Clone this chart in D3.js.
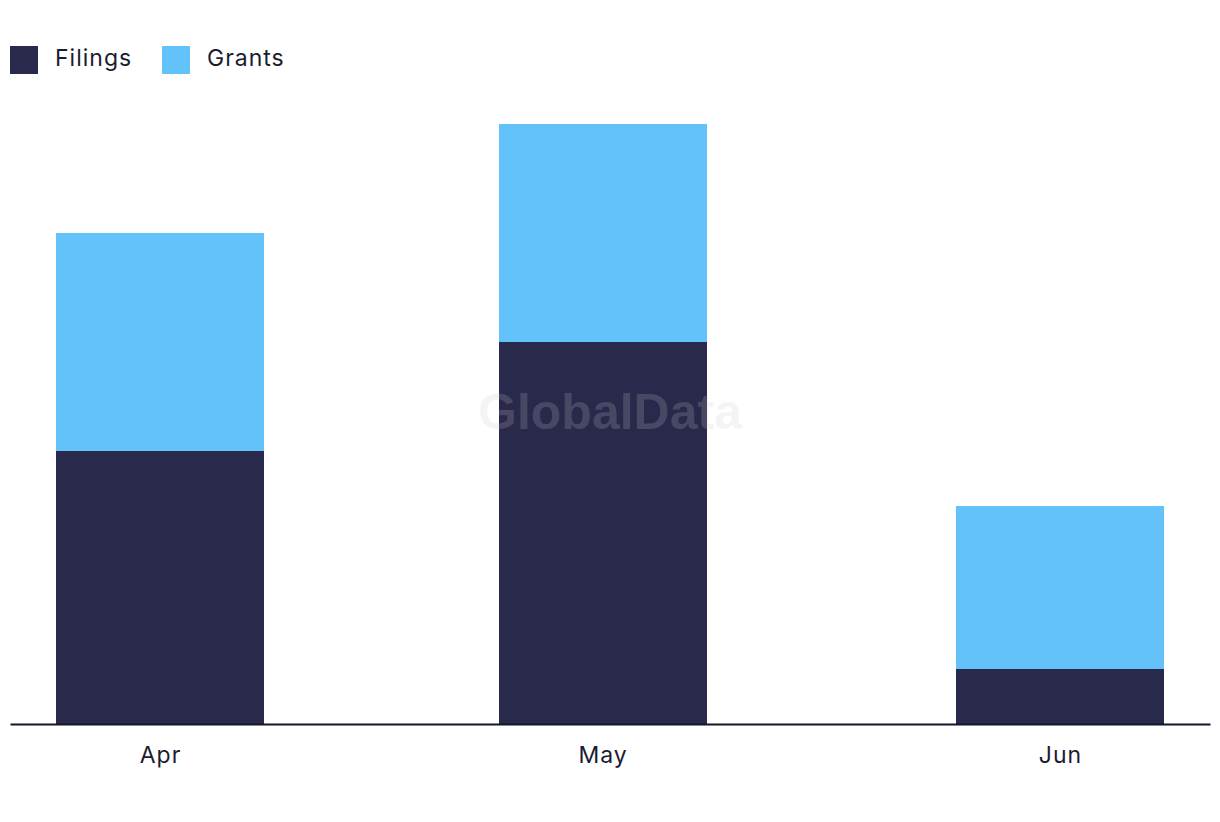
<!DOCTYPE html>
<html>
<head>
<meta charset="utf-8">
<script src="https://cdn.jsdelivr.net/npm/d3@7"></script>
<style>
  html, body { margin: 0; padding: 0; background: #fff; }
  svg { display: block; }
  text { font-family: Inter, "Open Sans", sans-serif; }
</style>
</head>
<body>
<svg id="chart" width="1220" height="822"></svg>
<script>
const months = ["Apr", "May", "Jun"];
const monthDates = ["2023-04-01", "2023-05-01", "2023-06-01"];
const filings = [5, 7, 1];
const grants = [4, 4, 3];
const seriesNames = ["Filings", "Grants"];
const seriesColors = ["#28294B", "#63C2F9"];

const svg = d3.select("#chart");
const axisY = 724;
const dates = monthDates.map(d => new Date(d + "T00:00:00"));
const dayMs = 86400000;
const padDays = 10.17;

const x = d3.scaleTime()
  .domain([new Date(dates[0].getTime() - padDays * dayMs), new Date(dates[2].getTime() + padDays * dayMs)])
  .range([10, 1210]);
const y = d3.scaleLinear()
  .domain([0, d3.max(filings.map((f, i) => f + grants[i]))])
  .range([723.5, 124]);

const barW = 208;
const rows = months.map((m, i) => ({ month: m, date: dates[i], Filings: filings[i], Grants: grants[i] }));
const stack = d3.stack().keys(seriesNames)(rows);

// bars
stack.forEach((layer, li) => {
  svg.append("g").attr("fill", seriesColors[li])
    .selectAll("rect").data(layer).join("rect")
    .attr("x", d => Math.round(x(d.data.date) - barW / 2))
    .attr("width", barW)
    .attr("y", d => Math.round(y(d[1])))
    .attr("height", d => Math.round(y(d[0])) - Math.round(y(d[1])));
});

// watermark
svg.append("text")
  .attr("x", 610).attr("y", 429)
  .attr("text-anchor", "middle")
  .style("font-family", "'Liberation Sans', Arial, sans-serif")
  .style("font-weight", "bold")
  .style("font-size", "50px")
  .attr("fill", "#c8c8cc")
  .attr("fill-opacity", 0.2)
  .text("GlobalData");

// axis
const axis = d3.axisBottom(x)
  .tickValues(dates)
  .tickFormat((d, i) => months[i])
  .tickSize(0)
  .tickSizeOuter(0)
  .tickPadding(23);
const ag = svg.append("g").attr("transform", `translate(0,${axisY})`).call(axis);
ag.select(".domain").attr("stroke", "#14142a").attr("stroke-width", 2);
ag.selectAll("text")
  .style("font-family", "Inter, 'Open Sans', sans-serif")
  .style("font-size", "23px")
  .style("letter-spacing", "1px")
  .attr("fill", "#1c1c30");

// legend
const legendItems = [
  { name: seriesNames[0], color: seriesColors[0], x: 10 },
  { name: seriesNames[1], color: seriesColors[1], x: 162 }
];
const lg = svg.append("g");
legendItems.forEach(it => {
  lg.append("rect").attr("x", it.x).attr("y", 46).attr("width", 28).attr("height", 28).attr("fill", it.color);
  lg.append("text").attr("x", it.x + 45).attr("y", 66)
    .style("font-size", "23px")
    .style("letter-spacing", "1px")
    .attr("fill", "#1c1c30")
    .text(it.name);
});
</script>
</body>
</html>
